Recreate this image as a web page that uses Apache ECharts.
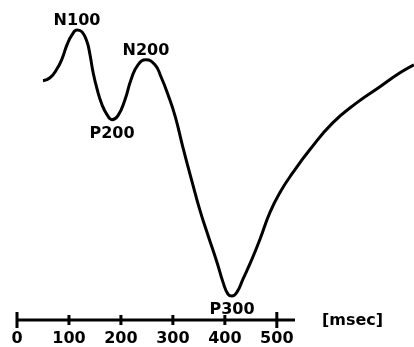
<!DOCTYPE html>
<html>
<head>
<meta charset="utf-8">
<title>ERP</title>
<script src="https://cdn.jsdelivr.net/npm/echarts@6/dist/echarts.min.js"></script>
<style>
  html, body { margin: 0; padding: 0; background: #fff; }
  #chart { width: 414px; height: 347px; }
</style>
</head>
<body>
<div id="chart"></div>
<script>
// waveform: latency (ms) and amplitude (uV, negative up)
var waveLatency = [50, 63.5, 77, 86.6, 96.2, 105.8, 115.5, 125.1, 134.7, 140.5, 146.2, 153.9, 163.6, 173.2, 182.8, 194.3, 207.8, 219.4, 232.8, 248.2, 265.5, 277.1, 290.6, 304, 319.4, 336.7, 352.1, 367.5, 384.8, 396.4, 406, 413.7, 423.3, 434.9, 452.2, 467.6, 486.8, 506.1, 531.1, 563.8, 608, 654.2, 698.5, 737, 763.9];
var waveAmp = [-6.9, -7.2, -8.1, -9.1, -10.5, -11.5, -12.0, -11.8, -10.8, -9.5, -7.8, -6.1, -4.5, -3.5, -3.0, -3.4, -5.0, -7.0, -8.5, -9.0, -8.5, -7.3, -5.5, -3.4, -0.2, 3.2, 6.1, 8.6, 11.3, 13.3, 14.5, 14.7, 14.3, 13.0, 11.0, 9.0, 6.3, 4.3, 2.3, 0, -2.7, -4.7, -6.3, -7.7, -8.5];

// peak names and where they sit
var peakNames = ['N100', 'P200', 'N200', 'P300'];
var peakLatency = [115.5, 182.8, 248.2, 413.7];
var peakAmp = [-12.0, -3.0, -9.0, 14.7];

// time axis
var tickValues = [0, 100, 200, 300, 400, 500];
var axisEnd = 535;
var axisUnit = '[msec]';

var yMin = -15, yMax = 17.1;
var FONT = 'DejaVu Sans';

var waveData = waveLatency.map(function (t, i) { return [t, waveAmp[i]]; });
var peakData = peakNames.map(function (n, i) {
    var below = n.charAt(0) === 'P';
    return {
        name: n,
        value: [peakLatency[i], peakAmp[i]],
        label: { position: below ? 'bottom' : 'top', distance: below ? 6 : 1 }
    };
});
var tickData = tickValues.map(function (t, i) {
    var isEnd = (i === 0 || i === tickValues.length - 1);
    return { value: [t, yMax], symbolSize: isEnd ? [3, 16] : [3, 10] };
});

var chart = echarts.init(document.getElementById('chart'));
chart.setOption({
    backgroundColor: '#fff',
    animation: false,
    title: {
        text: axisUnit,
        left: 322,
        top: 313,
        padding: 0,
        textStyle: { fontFamily: FONT, fontSize: 16, fontWeight: 'bold', color: '#000' }
    },
    grid: { left: 17, right: 0, top: 0, bottom: 26 },
    xAxis: {
        type: 'value',
        min: 0,
        max: 764,
        interval: 100,
        axisLine: { show: false },
        axisTick: { show: false },
        splitLine: { show: false },
        axisLabel: {
            margin: 11,
            showMaxLabel: false,
            fontFamily: FONT,
            fontSize: 16,
            fontWeight: 'bold',
            color: '#000',
            formatter: function (v) { return v <= 500 ? String(v) : ''; }
        }
    },
    yAxis: {
        type: 'value',
        inverse: true,
        min: yMin,
        max: yMax,
        show: false
    },
    series: [
        {
            name: 'wave',
            type: 'line',
            data: waveData,
            smooth: 0.5,
            symbol: 'none',
            clip: false,
            lineStyle: { color: '#000', width: 3 }
        },
        {
            name: 'axis',
            type: 'line',
            data: [[0, yMax], [axisEnd, yMax]],
            symbol: 'none',
            clip: false,
            lineStyle: { color: '#000', width: 3 }
        },
        {
            name: 'ticks',
            type: 'scatter',
            symbol: 'rect',
            data: tickData,
            clip: false,
            itemStyle: { color: '#000', opacity: 1 }
        },
        {
            name: 'peaks',
            type: 'scatter',
            data: peakData,
            symbolSize: 0,
            clip: false,
            itemStyle: { color: '#000', opacity: 1 },
            label: {
                show: true,
                formatter: '{b}',
                fontFamily: FONT,
                fontSize: 16,
                fontWeight: 'bold',
                color: '#000'
            }
        }
    ]
});
</script>
</body>
</html>
